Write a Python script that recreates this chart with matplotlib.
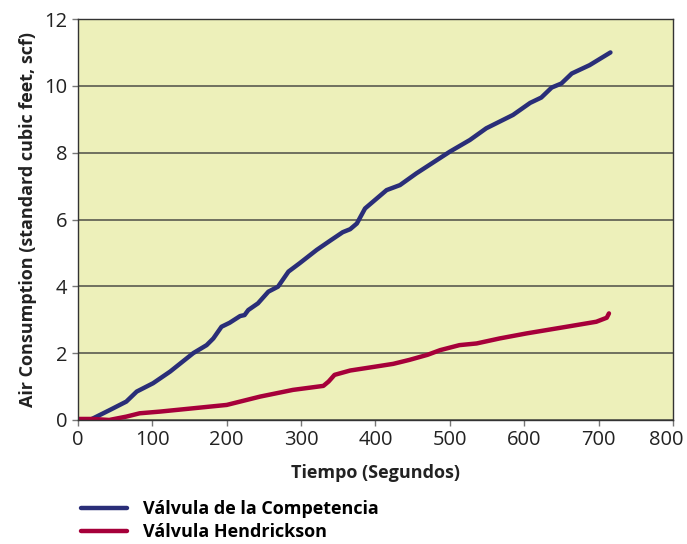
import matplotlib.pyplot as plt
from matplotlib.transforms import ScaledTranslation

# Datos (tiempo en segundos, consumo en scf)
t_competencia = [0, 16, 25, 43, 65, 79, 101, 124, 155, 173, 182, 193, 204, 218, 224, 229,
                 242, 256, 269, 283, 298, 321, 340, 356, 366, 375, 386, 415, 433, 455,
                 500, 527, 549, 585, 608, 623, 637, 650, 664, 688, 716]
aire_competencia = [0, 0, 0.1, 0.3, 0.55, 0.85, 1.1, 1.45, 2.0, 2.24, 2.44, 2.79, 2.91, 3.11, 3.14, 3.29,
                    3.49, 3.84, 3.99, 4.44, 4.69, 5.09, 5.38, 5.62, 5.71, 5.88, 6.33, 6.88, 7.03, 7.38,
                    8.03, 8.38, 8.73, 9.13, 9.49, 9.65, 9.95, 10.07, 10.37, 10.62, 11.0]

t_hendrickson = [0, 20, 42, 65, 83, 110, 155, 200, 245, 289, 330, 337, 345, 366, 401, 424,
                 446, 470, 487, 513, 536, 567, 603, 657, 697, 711, 714]
aire_hendrickson = [0.03, 0.03, 0.0, 0.1, 0.2, 0.25, 0.35, 0.45, 0.7, 0.9, 1.02, 1.15, 1.35, 1.48, 1.6, 1.68,
                    1.8, 1.95, 2.09, 2.24, 2.29, 2.44, 2.59, 2.79, 2.94, 3.06, 3.19]

plt.rcParams['font.family'] = ['Open Sans', 'DejaVu Sans']

fig = plt.figure(figsize=(6.87, 5.44), dpi=100)
ax = fig.add_axes([0.1135, 0.228, 0.866, 0.737])
ax.set_facecolor('#EDF0BA')

l1, = ax.plot(t_competencia, aire_competencia, color='#2A2E78', lw=3.2, solid_joinstyle='round',
              solid_capstyle='round', label='Válvula de la Competencia')
l2, = ax.plot(t_hendrickson, aire_hendrickson, color='#A6003A', lw=3.2, solid_joinstyle='round',
              solid_capstyle='round', label='Válvula Hendrickson')

ax.set_xlim(0, 800)
ax.set_ylim(0, 12)
ax.set_xticks(range(0, 801, 100))
ax.set_yticks(range(0, 13, 2))
ax.grid(axis='y', color='#5A5A50', lw=1.2)
ax.set_axisbelow(True)
for s in ax.spines.values():
    s.set_color('#333333')
    s.set_linewidth(1)
ax.tick_params(labelsize=14.5, colors='#222222', length=4, width=1, color='#777777')
ax.tick_params(axis='x', pad=3)

# el 800 queda un poco a la izquierda, como en el original
ultimo = ax.get_xticklabels()[-1]
ultimo.set_transform(ultimo.get_transform() + ScaledTranslation(-7 / 100, 0, fig.dpi_scale_trans))

ax.set_xlabel('Tiempo (Segundos)', fontsize=13, fontweight='bold', color='#222222', labelpad=10)
ax.set_ylabel('Air Consumption (standard cubic feet, scf)', fontsize=13, fontweight='bold',
              color='#222222', labelpad=5)

fig.legend(handles=[l1, l2], loc='upper left', bbox_to_anchor=(0.108, 0.094), frameon=False,
           prop={'weight': 'bold', 'size': 13}, handlelength=2.5, labelspacing=0.28,
           borderaxespad=0, handletextpad=0.9)

plt.savefig('out.png', dpi=100)
